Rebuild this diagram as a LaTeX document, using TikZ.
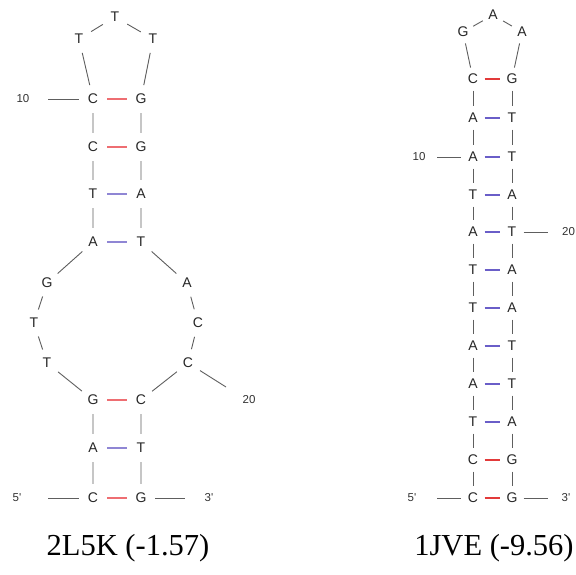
\documentclass[tikz,border=0pt]{standalone}
\usepackage{fontspec}
\setmainfont{Liberation Serif}
\newfontfamily\basefont{Liberation Sans}
\usepackage{xcolor}
\usetikzlibrary{positioning}

\definecolor{gcred}{HTML}{EE6E72}
\definecolor{atblue}{HTML}{8F86D4}
\definecolor{gcredB}{HTML}{E23A3A}
\definecolor{atblueB}{HTML}{6A5EC8}
\definecolor{bbgray}{HTML}{5E5E5E}

\begin{document}
\begin{tikzpicture}[
    x=1pt, y=-1pt,
    base/.style={circle, inner sep=0pt, minimum size=28pt, text=black!85, font=\basefont\fontsize{14}{14}\selectfont},
    baseR/.style={base, minimum size=23pt},
    numlabel/.style={inner sep=0pt, text=black!80, font=\basefont\fontsize{11.5}{11.5}\selectfont},
    caption/.style={inner sep=0pt, font=\fontsize{30.5}{30.5}\selectfont},
    backbone/.style={draw=bbgray, line width=0.9pt},
    gcpair/.style={draw=gcred, line width=1.3pt},
    atpair/.style={draw=atblue, line width=1.3pt},
    gcpairR/.style={draw=gcredB, line width=1.3pt},
    atpairR/.style={draw=atblueB, line width=1.3pt}
]
\useasboundingbox (0,0) rectangle (576,575);

% 2L5K: hairpin loop
\node[base] (l1) at (115,17) {T};
\node[base] (l0) at (79,39) {T};
\node[base] (l2) at (153,39) {T};

% 2L5K: upper stem
\node[base] (u1a) at (93,99) {C};  \node[base] (u1b) at (141,99) {G};
\node[base] (u2a) at (93,147) {C}; \node[base] (u2b) at (141,147) {G};
\node[base] (u3a) at (93,194) {T}; \node[base] (u3b) at (141,194) {A};
\node[base] (u4a) at (93,242) {A}; \node[base] (u4b) at (141,242) {T};

% 2L5K: internal loop
\node[base] (il1) at (47,283) {G};
\node[base] (il2) at (34,323) {T};
\node[base] (il3) at (47,363) {T};
\node[base] (ir1) at (187,283) {A};
\node[base] (ir2) at (198,323) {C};
\node[base] (ir3) at (188,363) {C};

% 2L5K: lower stem
\node[base] (d1a) at (93,400) {G}; \node[base] (d1b) at (141,400) {C};
\node[base] (d2a) at (93,448) {A}; \node[base] (d2b) at (141,448) {T};
\node[base] (d3a) at (93,498) {C}; \node[base] (d3b) at (141,498) {G};

% 2L5K: ends and numbering
\node[numlabel] (lten) at (23,99) {10};
\coordinate (ltenend) at (48,99);
\node[numlabel] (ltwenty) at (249,400) {20};
\coordinate (ltwentyend) at (226,387);
\node[numlabel] (lfive) at (17,498) {5'};
\coordinate (lfiveend) at (48,498);
\node[numlabel] (lthree) at (209,498) {3'};
\coordinate (lthreeend) at (185,498);

% 2L5K backbone
\draw[backbone] (u1a) -- (l0) -- (l1) -- (l2) -- (u1b);
\draw[backbone] (u1a) -- (u2a) -- (u3a) -- (u4a) -- (il1) -- (il2) -- (il3) -- (d1a) -- (d2a) -- (d3a);
\draw[backbone] (u1b) -- (u2b) -- (u3b) -- (u4b) -- (ir1) -- (ir2) -- (ir3) -- (d1b) -- (d2b) -- (d3b);
\draw[backbone] (ltenend) -- (u1a);
\draw[backbone] (ir3) -- (ltwentyend);
\draw[backbone] (lfiveend) -- (d3a);
\draw[backbone] (d3b) -- (lthreeend);

% 2L5K base pairs
\draw[gcpair] (u1a) -- (u1b);
\draw[gcpair] (u2a) -- (u2b);
\draw[atpair] (u3a) -- (u3b);
\draw[atpair] (u4a) -- (u4b);
\draw[gcpair] (d1a) -- (d1b);
\draw[atpair] (d2a) -- (d2b);
\draw[gcpair] (d3a) -- (d3b);

% 1JVE: hairpin loop
\node[baseR] (h1) at (493,15) {A};
\node[baseR] (h0) at (463,32) {G};
\node[baseR] (h2) at (522,32) {A};

% 1JVE: stem, one pair per row
\foreach \i/\y/\ba/\bb in {1/79/C/G, 2/118/A/T, 3/157/A/T, 4/195/T/A,
                           5/232/A/T, 6/270/T/A, 7/308/T/A, 8/346/A/T,
                           9/384/A/T, 10/422/T/A, 11/460/C/G, 12/498/C/G} {
  \node[baseR] (s\i a) at (473,\y) {\ba};
  \node[baseR] (s\i b) at (512,\y) {\bb};
}

% 1JVE: ends and numbering
\node[numlabel] (rten) at (419,157) {10};
\coordinate (rtenend) at (437,157);
\node[numlabel, anchor=west] (rtwenty) at (562,232) {20};
\coordinate (rtwentyend) at (548,232);
\node[numlabel] (rfive) at (412,498) {5'};
\coordinate (rfiveend) at (437,498);
\node[numlabel] (rthree) at (566,498) {3'};
\coordinate (rthreeend) at (548,498);

% 1JVE backbone
\draw[backbone] (s1a) -- (h0) -- (h1) -- (h2) -- (s1b);
\foreach \i [evaluate=\i as \j using int(\i+1)] in {1,...,11} {
  \draw[backbone] (s\i a) -- (s\j a);
  \draw[backbone] (s\i b) -- (s\j b);
}
\draw[backbone] (rtenend) -- (s3a);
\draw[backbone] (s5b) -- (rtwentyend);
\draw[backbone] (rfiveend) -- (s12a);
\draw[backbone] (s12b) -- (rthreeend);

% 1JVE base pairs
\foreach \i/\kind in {1/gcpairR, 2/atpairR, 3/atpairR, 4/atpairR, 5/atpairR, 6/atpairR,
                      7/atpairR, 8/atpairR, 9/atpairR, 10/atpairR, 11/gcpairR, 12/gcpairR} {
  \draw[\kind] (s\i a) -- (s\i b);
}

% captions
\node[caption] (capA) at (128,548) {2L5K (-1.57)};
\node[caption] (capB) at (494,548) {1JVE (-9.56)};

\end{tikzpicture}
\end{document}
